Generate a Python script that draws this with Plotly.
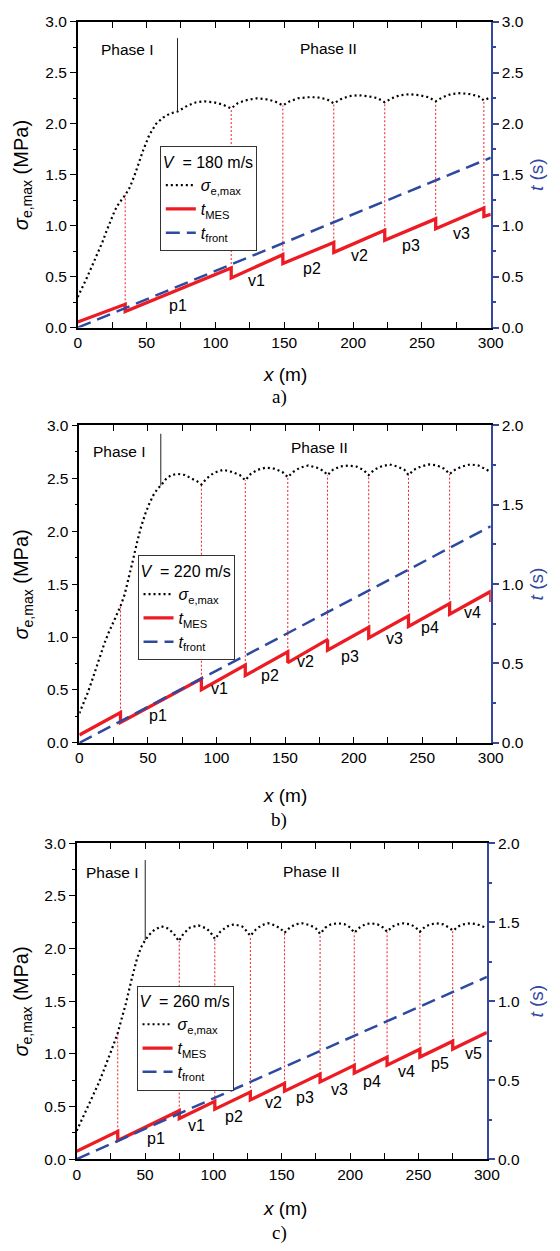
import plotly.graph_objects as go

W, H = 560, 1251
FONT = "Liberation Sans, Arial, sans-serif"
SERIF = "Liberation Serif, Times New Roman, serif"
RED = "rgb(237,28,36)"
BLUE = "rgb(46,74,160)"
AXBLUE = "rgb(52,72,158)"

SIG_NAME = "<i>σ</i><sub>e,max</sub>"
MES_NAME = "<i>t</i><sub>MES</sub>"
FRONT_NAME = "<i>t</i><sub>front</sub>"

# ---------------- Panel a) V = 180 m/s ----------------
A_V = 180
A_SIG_X = [0, 3, 6, 9, 12, 15, 18, 21, 24, 27, 30, 33, 34.5, 38, 42, 47, 52, 57, 62, 67, 72.5,
           80, 86, 92, 99, 105, 111.5, 116, 122, 130, 137, 143, 149, 154, 160, 167, 174, 181, 186,
           191, 197, 204, 211, 218, 223, 228, 234, 241, 248, 255, 260, 265, 271, 278, 285, 291, 295, 300]
A_SIG_Y = [0.30, 0.38, 0.47, 0.56, 0.65, 0.74, 0.84, 0.95, 1.06, 1.15, 1.22, 1.27, 1.30, 1.38, 1.52, 1.72, 1.89, 2.00, 2.06, 2.10, 2.12,
           2.18, 2.21, 2.22, 2.21, 2.19, 2.15, 2.20, 2.23, 2.25, 2.24, 2.22, 2.18, 2.22, 2.25, 2.26, 2.26, 2.24, 2.20,
           2.24, 2.27, 2.28, 2.27, 2.25, 2.21, 2.25, 2.28, 2.29, 2.28, 2.26, 2.22, 2.26, 2.29, 2.30, 2.29, 2.27, 2.23, 2.26]
A_MES_X = [0, 34.5, 34.5, 111.5, 111.5, 149, 149, 186, 186, 223, 223, 260, 260, 295, 295, 300]
A_MES_Y = [0.055, 0.229, 0.158, 0.584, 0.487, 0.716, 0.629, 0.835, 0.738, 0.955, 0.858, 1.067, 0.970, 1.174, 1.090, 1.112]
A_FRONT_X = [0, 300]
A_FRONT_Y = [0.0, 1.667]
A_JUMP_X = [34.5, 111.5, 149, 186, 223, 260, 295]
A_JUMP_SIG = [1.30, 2.15, 2.18, 2.20, 2.21, 2.22, 2.23]
A_PHASE = [72.5, 2.12, 2.84]
A_LABELS = ["p1", "v1", "p2", "v2", "p3", "v3"]
A_LAB_X = [73, 130, 170, 205, 242, 279]
A_LAB_Y = [0.22, 0.46, 0.58, 0.71, 0.81, 0.92]
A_PHASE_TXT = [(36, 2.73, "Phase I"), (182, 2.74, "Phase II")]

# ---------------- Panel b) V = 220 m/s ----------------
B_V = 220
B_SIG_X = [0, 3, 6, 9, 12, 15, 18, 21, 24, 27, 30, 33, 36, 39, 42, 45, 48, 51, 54, 57, 59.4,
           63, 67, 72, 77, 82, 86, 89, 93, 98, 105, 111, 117, 121, 125, 130, 136, 142, 148, 152,
           156, 161, 167, 173, 178, 181, 185, 190, 196, 202, 207, 211, 215, 220, 226, 232, 237, 240,
           244, 249, 255, 261, 266, 270, 274, 279, 285, 291, 296, 300]
B_SIG_Y = [0.28, 0.37, 0.47, 0.58, 0.70, 0.82, 0.93, 1.03, 1.12, 1.21, 1.29, 1.40, 1.55, 1.72, 1.89, 2.04, 2.16, 2.26, 2.34, 2.40, 2.43,
           2.49, 2.53, 2.54, 2.53, 2.50, 2.47, 2.44, 2.50, 2.55, 2.58, 2.56, 2.53, 2.48, 2.54, 2.58, 2.60, 2.59, 2.56, 2.51,
           2.56, 2.60, 2.62, 2.60, 2.57, 2.53, 2.58, 2.61, 2.62, 2.61, 2.58, 2.53, 2.58, 2.61, 2.63, 2.61, 2.58, 2.53,
           2.58, 2.61, 2.63, 2.62, 2.59, 2.54, 2.58, 2.61, 2.63, 2.62, 2.59, 2.56]
B_MES_X = [0, 30, 30, 89, 89, 121, 121, 152, 152, 181, 181, 211, 211, 240, 240, 270, 270, 300, 300]
B_MES_Y = [0.05, 0.191, 0.128, 0.404, 0.335, 0.490, 0.424, 0.573, 0.505, 0.650, 0.584, 0.728, 0.661, 0.800, 0.733, 0.877, 0.810, 0.954, 0.887]
B_FRONT_X = [0, 300]
B_FRONT_Y = [0.0, 1.364]
B_JUMP_X = [30, 89, 121, 152, 181, 211, 240, 270]
B_JUMP_SIG = [1.29, 2.44, 2.48, 2.51, 2.53, 2.53, 2.53, 2.54]
B_PHASE = [59.4, 2.43, 2.92]
B_LABELS = ["p1", "v1", "p2", "v2", "p3", "v3", "p4", "v4"]
B_LAB_X = [57, 102, 139, 165, 197, 230, 256, 287]
B_LAB_Y = [0.26, 0.51, 0.64, 0.77, 0.82, 0.99, 1.09, 1.23]
B_PHASE_TXT = [(29, 2.75, "Phase I"), (175, 2.79, "Phase II")]

# ---------------- Panel c) V = 260 m/s ----------------
C_V = 260
C_SIG_X = [0, 4, 8, 12, 16, 20, 24, 27, 30, 33, 36, 40, 44, 47, 50.1, 53, 57, 62, 67, 71, 74.7,
           78, 83, 89, 95, 98, 101.2, 105, 110, 115, 121, 124, 127, 131, 135, 140, 145, 149, 152,
           156, 160, 165, 171, 175, 178, 182, 186, 191, 196, 200, 203, 207, 211, 215, 220, 224, 227,
           231, 235, 239, 244, 248, 251, 255, 259, 263, 268, 272, 275.4, 279, 283, 288, 293, 297, 300]
C_SIG_Y = [0.27, 0.38, 0.49, 0.60, 0.72, 0.85, 0.98, 1.09, 1.20, 1.33, 1.48, 1.70, 1.90, 2.01, 2.08, 2.13, 2.18, 2.21, 2.19, 2.14, 2.07,
           2.14, 2.20, 2.22, 2.19, 2.15, 2.09, 2.16, 2.21, 2.23, 2.21, 2.17, 2.12, 2.18, 2.22, 2.24, 2.22, 2.19, 2.15,
           2.20, 2.23, 2.24, 2.22, 2.19, 2.14, 2.20, 2.23, 2.24, 2.23, 2.20, 2.15, 2.20, 2.23, 2.24, 2.23, 2.20, 2.16,
           2.21, 2.23, 2.24, 2.23, 2.20, 2.16, 2.21, 2.23, 2.24, 2.23, 2.20, 2.17, 2.21, 2.23, 2.24, 2.23, 2.21, 2.19]
C_MES_X = [0, 30, 30, 75, 75, 101, 101, 127, 127, 152, 152, 178, 178, 203, 203, 227, 227, 251, 251, 275, 275, 300]
C_MES_Y = [0.05, 0.176, 0.118, 0.307, 0.257, 0.366, 0.316, 0.425, 0.375, 0.480, 0.430, 0.539, 0.489, 0.594, 0.544,
           0.645, 0.595, 0.696, 0.646, 0.747, 0.697, 0.802]
C_FRONT_X = [0, 300]
C_FRONT_Y = [0.0, 1.154]
C_JUMP_X = [30, 75, 101, 127, 152, 178, 203, 227, 251, 275]
C_JUMP_SIG = [1.20, 2.07, 2.09, 2.12, 2.15, 2.14, 2.15, 2.16, 2.16, 2.17]
C_PHASE = [50.1, 2.08, 2.84]
C_LABELS = ["p1", "v1", "p2", "v2", "p3", "v3", "p4", "v4", "p5", "v5"]
C_LAB_X = [58, 87.5, 115, 144, 167, 192, 216, 241, 266, 290]
C_LAB_Y = [0.20, 0.32, 0.405, 0.54, 0.585, 0.66, 0.74, 0.83, 0.91, 1.0]
C_PHASE_TXT = [(26, 2.72, "Phase I"), (172, 2.73, "Phase II")]

X_RANGE = [0, 300]
Y_LEFT_RANGE = [0, 3]

panels = [
    dict(V=A_V, sx=A_SIG_X, sy=A_SIG_Y, mx=A_MES_X, my=A_MES_Y, fx=A_FRONT_X, fy=A_FRONT_Y,
         jx=A_JUMP_X, js=A_JUMP_SIG, ph=A_PHASE, lab=A_LABELS, lx=A_LAB_X, ly=A_LAB_Y, pt=A_PHASE_TXT,
         tmax=3.0, box=(76, 502, 13, 323), leg=(160.7, 139.3), cap="a)", capy=393, xty=371),
    dict(V=B_V, sx=B_SIG_X, sy=B_SIG_Y, mx=B_MES_X, my=B_MES_Y, fx=B_FRONT_X, fy=B_FRONT_Y,
         jx=B_JUMP_X, js=B_JUMP_SIG, ph=B_PHASE, lab=B_LABELS, lx=B_LAB_X, ly=B_LAB_Y, pt=B_PHASE_TXT,
         tmax=2.0, box=(77.7, 502, 422, 744), leg=(137.7, 554), cap="b)", capy=822, xty=797),
    dict(V=C_V, sx=C_SIG_X, sy=C_SIG_Y, mx=C_MES_X, my=C_MES_Y, fx=C_FRONT_X, fy=C_FRONT_Y,
         jx=C_JUMP_X, js=C_JUMP_SIG, ph=C_PHASE, lab=C_LABELS, lx=C_LAB_X, ly=C_LAB_Y, pt=C_PHASE_TXT,
         tmax=2.0, box=(75, 498, 845.7, 1166), leg=(136.7, 990), cap="c)", capy=1241, xty=1216),
]

fig = go.Figure()
layout = dict(
    width=W, height=H, margin=dict(l=0, r=0, t=0, b=0),
    paper_bgcolor="white", plot_bgcolor="white",
    font=dict(family=FONT, size=15, color="black"),
    showlegend=True,
)
shapes = []
annotations = []

for i, p in enumerate(panels):
    n = i + 1
    xa = "x" if n == 1 else f"x{n}"
    yl = "y" if n == 1 else f"y{2 * i + 1}"
    yr = f"y{2 * i + 2}"
    leg = "legend" if n == 1 else f"legend{n}"
    l, r, t, b = p["box"]

    fig.add_trace(go.Scatter(x=p["sx"], y=p["sy"], xaxis=xa, yaxis=yl, mode="lines",
                             line=dict(color="black", width=2.2, dash="2px,3px"),
                             name=SIG_NAME, legend=leg))
    fig.add_trace(go.Scatter(x=p["mx"], y=p["my"], xaxis=xa, yaxis=yr, mode="lines",
                             line=dict(color=RED, width=3.3), name=MES_NAME, legend=leg))
    fig.add_trace(go.Scatter(x=p["fx"], y=p["fy"], xaxis=xa, yaxis=yr, mode="lines",
                             line=dict(color=BLUE, width=2.5, dash="14px,7px"),
                             name=FRONT_NAME, legend=leg))

    xkey = "xaxis" if n == 1 else f"xaxis{n}"
    ylkey = "yaxis" if n == 1 else f"yaxis{2 * i + 1}"
    yrkey = f"yaxis{2 * i + 2}"
    dom_x = [l / W, r / W]
    dom_y = [1 - b / H, 1 - t / H]

    layout[xkey] = dict(domain=dom_x, anchor=yl, range=X_RANGE, dtick=50, tick0=0,
                        showline=True, linecolor="black", linewidth=1.5, mirror="allticks",
                        ticks="inside", ticklen=6, tickwidth=1.2, tickcolor="black",
                        minor=dict(dtick=25, ticks="inside", ticklen=3, tickcolor="black"),
                        showgrid=False, zeroline=False, tickfont=dict(size=15.5))
    layout[ylkey] = dict(domain=dom_y, anchor=xa, range=Y_LEFT_RANGE, dtick=0.5, tick0=0,
                         tickformat=".1f", showline=True, linecolor="black", linewidth=1.5,
                         ticks="outside", ticklen=6, tickwidth=1.2, tickcolor="black",
                         minor=dict(dtick=0.25, ticks="outside", ticklen=3, tickcolor="black"),
                         showgrid=False, zeroline=False, tickfont=dict(size=15.5))
    layout[yrkey] = dict(overlaying=yl, side="right", anchor=xa, range=[0, p["tmax"]],
                         dtick=0.5, tick0=0, tickformat=".1f", showline=True,
                         linecolor=AXBLUE, linewidth=2, ticks="outside", ticklen=6,
                         tickwidth=1.5, tickcolor=AXBLUE,
                         minor=dict(dtick=0.25, ticks="outside", ticklen=3, tickcolor=AXBLUE),
                         showgrid=False, zeroline=False, tickfont=dict(size=15.5, color="black"))

    layout[leg] = dict(x=p["leg"][0] / W, y=1 - p["leg"][1] / H, xanchor="left", yanchor="top",
                       bgcolor="white", bordercolor="#333", borderwidth=1,
                       font=dict(size=16, family=FONT),
                       title=dict(text=f"<i>V</i>  = {p['V']} m/s", font=dict(size=16, family=FONT)),
                       tracegroupgap=0, itemwidth=30)

    # vertical red dotted lines: from t_MES top (right axis) up to sigma (left axis)
    scale = (Y_LEFT_RANGE[1] - Y_LEFT_RANGE[0]) / p["tmax"]
    for k, jx in enumerate(p["jx"]):
        ttop = p["my"][2 * k + 1]
        shapes.append(dict(type="line", xref=xa, yref=yl, x0=jx, x1=jx, y0=ttop * scale, y1=p["js"][k],
                           line=dict(color=RED, width=1, dash="2px,2px"), layer="below"))
    # phase divider
    ph = p["ph"]
    shapes.append(dict(type="line", xref=xa, yref=yl, x0=ph[0], x1=ph[0], y0=ph[1], y1=ph[2],
                       line=dict(color="#222", width=1)))

    for (tx, ty, txt) in p["pt"]:
        annotations.append(dict(x=tx, y=ty, xref=xa, yref=yl, text=txt, showarrow=False,
                                font=dict(size=15.5), xanchor="center", yanchor="middle"))
    for lab, lx, ly in zip(p["lab"], p["lx"], p["ly"]):
        annotations.append(dict(x=lx, y=ly, xref=xa, yref=yl, text=lab, showarrow=False,
                                font=dict(size=16), xanchor="center", yanchor="middle"))

    cy = 1 - (t + b) / 2 / H
    annotations.append(dict(x=19 / W, y=cy, xref="paper", yref="paper", textangle=-90,
                            text="<i>σ</i><sub>e,max</sub> (MPa)", showarrow=False,
                            font=dict(size=20), xanchor="center", yanchor="middle"))
    annotations.append(dict(x=549 / W, y=cy, xref="paper", yref="paper", textangle=-90,
                            text="<i>t</i> (s)", showarrow=False,
                            font=dict(size=19, color=AXBLUE), xanchor="center", yanchor="middle"))
    annotations.append(dict(x=290 / W, y=1 - p["xty"] / H, xref="paper", yref="paper",
                            text="<i>x</i> (m)", showarrow=False, font=dict(size=19),
                            xanchor="center", yanchor="middle"))
    annotations.append(dict(x=284 / W, y=1 - p["capy"] / H, xref="paper", yref="paper",
                            text=p["cap"], showarrow=False, font=dict(size=19, family=SERIF),
                            xanchor="center", yanchor="middle"))

layout["shapes"] = shapes
layout["annotations"] = annotations
fig.update_layout(**layout)
fig.write_html("out.html")
